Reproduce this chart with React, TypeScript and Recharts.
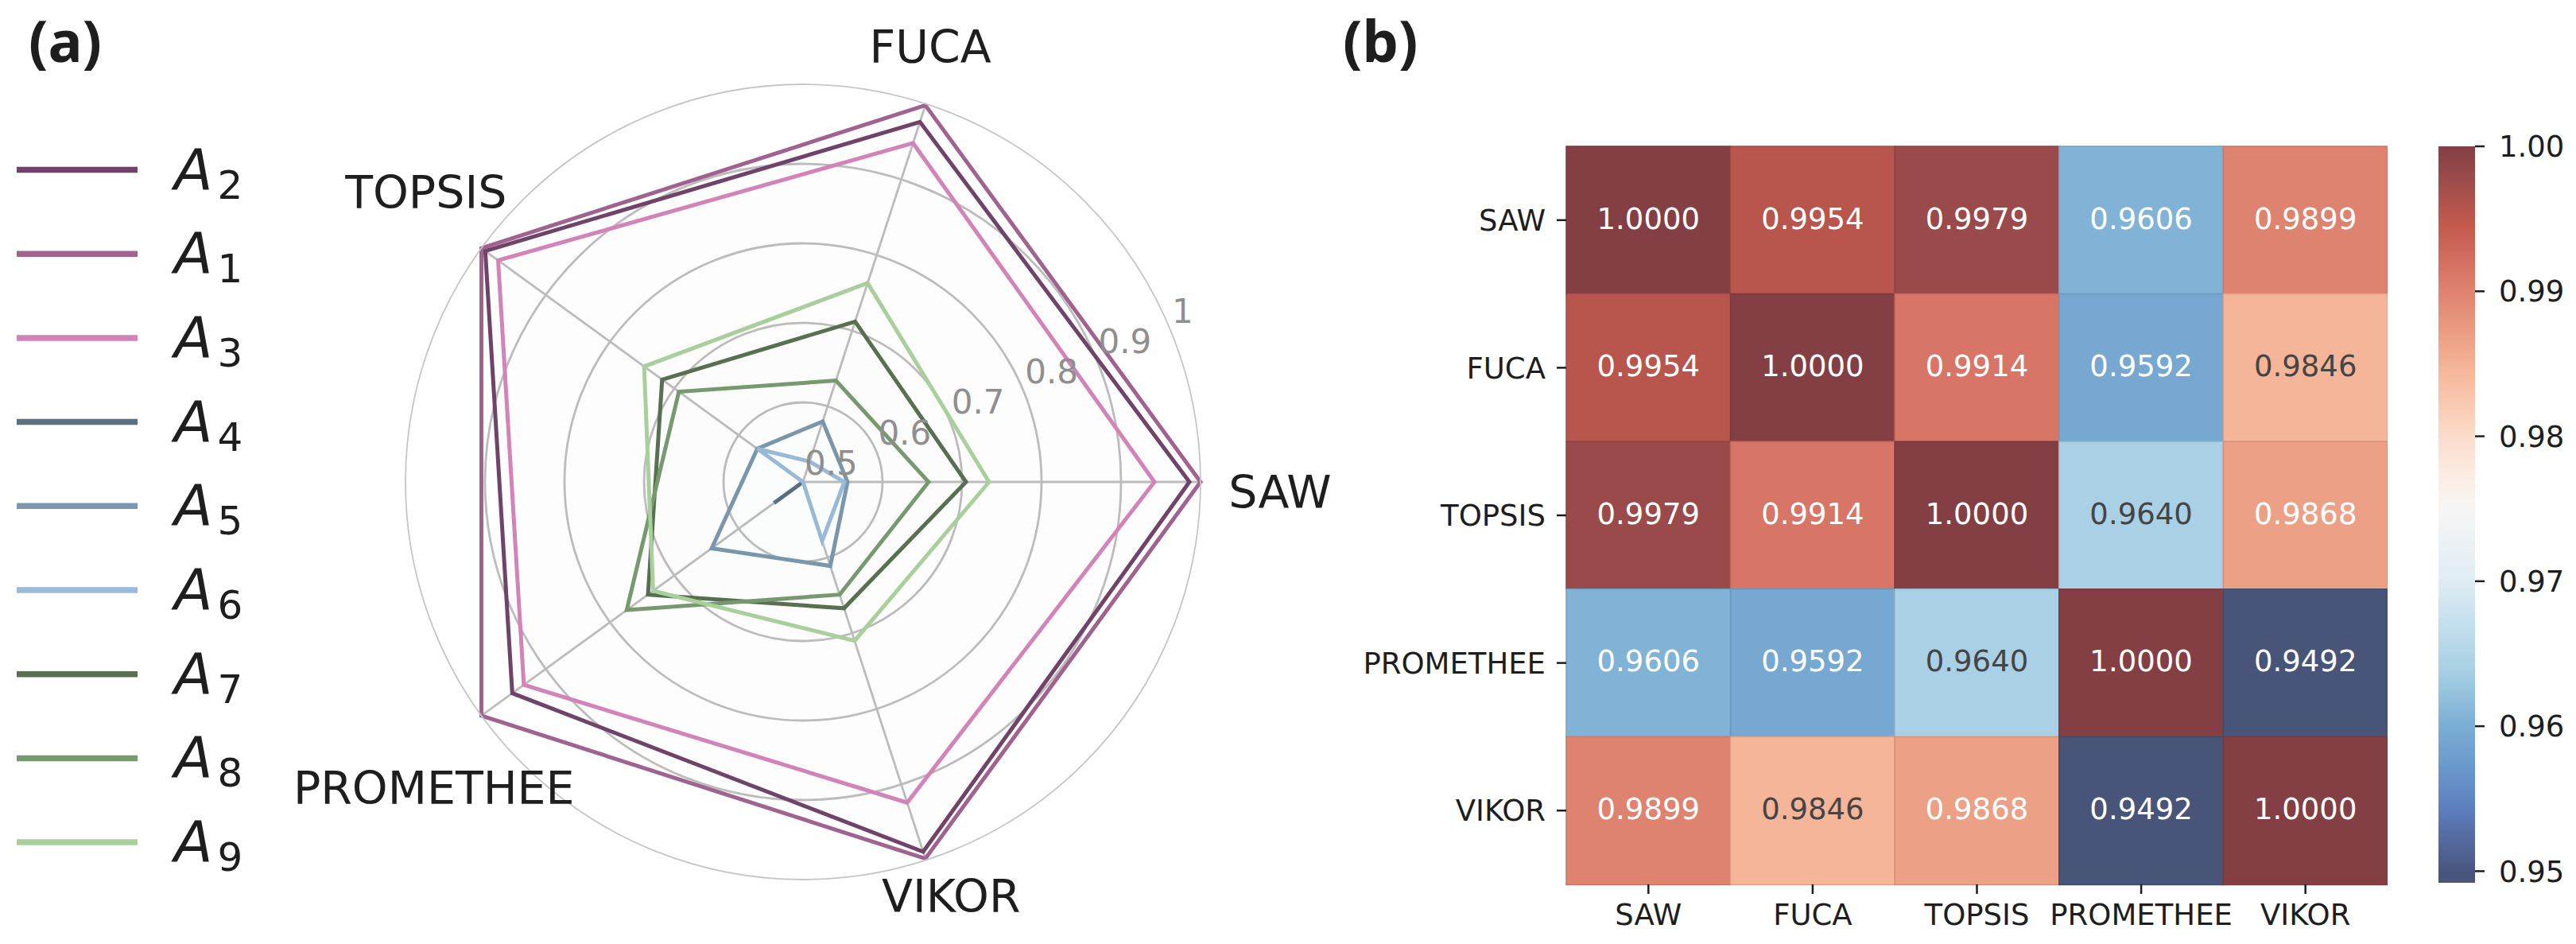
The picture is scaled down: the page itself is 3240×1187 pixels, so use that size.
import React from 'react';
import {
  RadarChart,
  Radar,
  PolarGrid,
  PolarAngleAxis,
  PolarRadiusAxis,
  Legend,
  BarChart,
  Bar,
  XAxis,
  YAxis,
  Cell,
  LabelList,
} from 'recharts';

// ---- data ----
const methods = ['SAW', 'FUCA', 'TOPSIS', 'PROMETHEE', 'VIKOR'];

// normalised scores of each alternative, same order as methods
const A1 = [1.0, 0.998, 1.0, 1.0, 0.998];
const A2 = [0.986, 0.976, 0.994, 0.952, 0.989];
const A3 = [0.942, 0.948, 0.974, 0.934, 0.924];
const A4 = [0.5, 0.5, 0.5, 0.545, 0.5];
const A5 = [0.556, 0.58, 0.571, 0.642, 0.611];
const A6 = [0.552, 0.527, 0.571, 0.5, 0.578];
const A7 = [0.705, 0.712, 0.719, 0.741, 0.667];
const A8 = [0.658, 0.634, 0.693, 0.774, 0.649];
const A9 = [0.734, 0.763, 0.747, 0.733, 0.71];

const radialTicks = [0.5, 0.6, 0.7, 0.8, 0.9, 1.0];

// correlation between the methods (rows of the matrix)
const corrSAW = [1.0, 0.9954, 0.9979, 0.9606, 0.9899];
const corrFUCA = [0.9954, 1.0, 0.9914, 0.9592, 0.9846];
const corrTOPSIS = [0.9979, 0.9914, 1.0, 0.964, 0.9868];
const corrPROMETHEE = [0.9606, 0.9592, 0.964, 1.0, 0.9492];
const corrVIKOR = [0.9899, 0.9846, 0.9868, 0.9492, 1.0];

const colorbarTicks = [0.95, 0.96, 0.97, 0.98, 0.99, 1.0];
const CB_MIN = 0.9492;
const CB_MAX = 1.0;

// ---- styling ----
const series = [
  { name: 'A2', values: A2, color: '#704468' },
  { name: 'A1', values: A1, color: '#a0628f' },
  { name: 'A3', values: A3, color: '#d283b7' },
  { name: 'A4', values: A4, color: '#5a7083' },
  { name: 'A5', values: A5, color: '#7c97ae' },
  { name: 'A6', values: A6, color: '#9abbd9' },
  { name: 'A7', values: A7, color: '#586f51' },
  { name: 'A8', values: A8, color: '#78986f' },
  { name: 'A9', values: A9, color: '#a8cf9c' },
];

// the radar runs clockwise from 3 o'clock, so walk the methods backwards
// (SAW, VIKOR, PROMETHEE, TOPSIS, FUCA) to get them counter-clockwise
const radarOrder = [0, 4, 3, 2, 1];
const radarData = radarOrder.map((i) => {
  const row: Record<string, any> = { method: methods[i] };
  series.forEach((s) => {
    row[s.name] = s.values[i];
  });
  return row;
});

const corrRows = [corrSAW, corrFUCA, corrTOPSIS, corrPROMETHEE, corrVIKOR];
const heatRows = methods.map((m, i) => {
  const row: Record<string, any> = { name: m, vals: corrRows[i] };
  corrRows[i].forEach((v, j) => {
    row[`w${j}`] = 1; // every cell is one unit wide
    row[`v${j}`] = v;
  });
  return row;
});

// diverging colormap sampled from the colour bar
const cmapStops: Array<[number, string]> = [
  [0.9492, '#495479'],
  [0.95, '#4a5580'],
  [0.9544, '#5e7fbf'],
  [0.9571, '#6a98cb'],
  [0.96, '#7aaed4'],
  [0.9638, '#a8cfe4'],
  [0.9672, '#c5e0ee'],
  [0.97, '#e0ecf4'],
  [0.975, '#f7f6f5'],
  [0.9773, '#fbece3'],
  [0.98, '#fbdccb'],
  [0.984, '#f7bb9f'],
  [0.9866, '#eda387'],
  [0.99, '#df8270'],
  [0.9944, '#c55a4f'],
  [0.9974, '#9f4d4b'],
  [1.0, '#843f45'],
];

const hexToRgb = (h: string) => [
  parseInt(h.slice(1, 3), 16),
  parseInt(h.slice(3, 5), 16),
  parseInt(h.slice(5, 7), 16),
];

const cmapRgb = (v: number) => {
  const x = Math.min(CB_MAX, Math.max(CB_MIN, v));
  for (let k = 0; k < cmapStops.length - 1; k++) {
    const [v0, c0] = cmapStops[k];
    const [v1, c1] = cmapStops[k + 1];
    if (x >= v0 && x <= v1) {
      const t = (x - v0) / (v1 - v0);
      const a = hexToRgb(c0);
      const b = hexToRgb(c1);
      return a.map((ch, n) => Math.round(ch + (b[n] - ch) * t));
    }
  }
  return hexToRgb(cmapStops[cmapStops.length - 1][1]);
};

const rgbStr = (c: number[]) => `rgb(${c[0]},${c[1]},${c[2]})`;
const cmap = (v: number) => rgbStr(cmapRgb(v));
const edgeColor = (v: number) => rgbStr(cmapRgb(v).map((ch) => Math.round(ch * 0.9)));

const luminance = (c: number[]) => {
  const lin = c.map((ch) => {
    const s = ch / 255;
    return s <= 0.03928 ? s / 12.92 : Math.pow((s + 0.055) / 1.055, 2.4);
  });
  return 0.2126 * lin[0] + 0.7152 * lin[1] + 0.0722 * lin[2];
};

// ---- radar geometry ----
const CX = 1010;
const CY = 606;
const R = 500;
const gridRadii = radialTicks
  .filter((t) => t > 0.5 && t < 1)
  .map((t) => ((t - 0.5) / 0.5) * R);

// fine nudges so the method names sit like the original
const labelNudge: Record<string, [number, number]> = {
  SAW: [20, 13],
  FUCA: [-19, 5],
  TOPSIS: [-5, -23],
  PROMETHEE: [5, 44],
  VIKOR: [7, -31],
};

const AngleTick = ({ x, y, payload }: any) => {
  const dx = x - CX;
  const dy = y - CY;
  const d = Math.hypot(dx, dy) || 1;
  const nudge = labelNudge[payload.value] || [0, 0];
  const tx = CX + (dx / d) * 580 + nudge[0];
  const ty = CY + (dy / d) * 580 + nudge[1];
  return (
    <text
      x={tx}
      y={ty}
      textAnchor="middle"
      dominantBaseline="central"
      fontSize={57}
      fill="#1e1e1e"
      fontFamily="DejaVu Sans"
    >
      {payload.value}
    </text>
  );
};

const fmtRadial = (v: number) => (Math.abs(v - 1) < 1e-9 ? '1' : v.toFixed(1));

const RadiusTick = ({ x, y, payload }: any) => (
  <text
    x={x + 2}
    y={y - 9}
    textAnchor="start"
    fontSize={42}
    fill="#8f8f8f"
    fontFamily="DejaVu Sans"
  >
    {fmtRadial(payload.value)}
  </text>
);

const LEGEND_TOP = 213.5;
const LEGEND_STEP = 105.7;

const renderLegend = (props: any) => {
  const payload = [...(props.payload || [])].sort(
    (a: any, b: any) =>
      series.findIndex((s) => s.name === a.value) - series.findIndex((s) => s.name === b.value)
  );
  return (
    <svg width={330} height={1120}>
      {payload.map((p: any, i: number) => {
        const y = LEGEND_TOP + i * LEGEND_STEP;
        return (
          <g key={p.value}>
            <line x1={21} x2={173} y1={y} y2={y} stroke={p.color} strokeWidth={7.5} />
            <text x={219} y={y + 24} fontSize={71} fill="#1e1e1e" fontFamily="DejaVu Sans">
              <tspan fontStyle="italic">A</tspan>
              <tspan fontSize={50} dx={6} dy={12}>
                {String(p.value).slice(1)}
              </tspan>
            </text>
          </g>
        );
      })}
    </svg>
  );
};

// ---- heatmap cell text ----
const CellLabel = (props: any) => {
  const { x, y, width, height, value } = props;
  const lum = luminance(cmapRgb(value));
  return (
    <text
      x={x + width / 2}
      y={y + height / 2 - 2}
      textAnchor="middle"
      dominantBaseline="central"
      fontSize={37}
      fill={lum > 0.5 ? '#454545' : '#ffffff'}
      fontFamily="DejaVu Sans"
    >
      {Number(value).toFixed(4)}
    </text>
  );
};

const axisText = { fontSize: 37, fill: '#1e1e1e', fontFamily: 'DejaVu Sans' };
const tickStroke = { stroke: '#1e1e1e', strokeWidth: 2.5 };

export default function App() {
  return (
    <div
      style={{
        position: 'absolute',
        left: 0,
        top: 0,
        width: 3240,
        height: 1187,
        background: '#ffffff',
        overflow: 'hidden',
        fontFamily: '"DejaVu Sans", sans-serif',
      }}
    >
      {/* panel letters */}
      <svg width={3240} height={130} style={{ position: 'absolute', left: 0, top: 0 }}>
        <text x={36} y={78} fontSize={72} fontWeight="bold" fill="#1e1e1e" fontFamily="Noto Sans">
          (a)
        </text>
        <text x={1689} y={78} fontSize={72} fontWeight="bold" fill="#1e1e1e" fontFamily="Noto Sans">
          (b)
        </text>
      </svg>

      {/* (a) radar */}
      <div style={{ position: 'absolute', left: 0, top: 0 }}>
        <RadarChart
          width={1900}
          height={1187}
          data={radarData}
          cx={CX}
          cy={CY}
          innerRadius={0}
          outerRadius={R}
          startAngle={0}
          endAngle={-360}
          margin={{ top: 0, right: 0, bottom: 0, left: 0 }}
        >
          <PolarGrid
            gridType="circle"
            polarRadius={gridRadii}
            stroke="#bebebe"
            strokeWidth={2.8}
            fill="none"
          />
          <PolarAngleAxis
            dataKey="method"
            axisLineType="circle"
            axisLine={{ stroke: '#c6c6c6', strokeWidth: 1.8, fill: 'none' }}
            tickLine={false}
            tick={<AngleTick />}
          />
          <PolarRadiusAxis
            angle={22.5}
            type="number"
            domain={[0.5, 1]}
            ticks={radialTicks as any}
            tickCount={6}
            axisLine={false}
            tickLine={false}
            tick={<RadiusTick />}
          />
          {series.map((s) => (
            <Radar
              key={s.name}
              name={s.name}
              dataKey={s.name}
              stroke={s.color}
              strokeWidth={5}
              fill={s.color}
              fillOpacity={0.003}
              dot={false}
              isAnimationActive={false}
            />
          ))}
          <Legend
            layout="vertical"
            align="center"
            verticalAlign="middle"
            wrapperStyle={{ left: 0, top: 0, width: 330 }}
            content={renderLegend}
          />
        </RadarChart>
      </div>

      {/* (b) correlation heatmap */}
      <div style={{ position: 'absolute', left: 1700, top: 0 }}>
        <BarChart
          layout="vertical"
          width={1303}
          height={1187}
          data={heatRows}
          margin={{ top: 184, right: 0, bottom: 0, left: 0 }}
          barCategoryGap={0}
        >
          <XAxis
            type="number"
            domain={[0, methods.length]}
            ticks={methods.map((_, j) => j + 0.5)}
            tickFormatter={(v: number) => methods[Math.floor(v)]}
            interval={0}
            height={75}
            axisLine={false}
            tickSize={12}
            tickMargin={13}
            tickLine={tickStroke}
            tick={axisText}
          />
          <YAxis
            type="category"
            dataKey="name"
            width={270}
            interval={0}
            axisLine={false}
            tickSize={12}
            tickMargin={14}
            tickLine={tickStroke}
            tick={axisText}
          />
          {methods.map((m, j) => (
            <Bar key={m} dataKey={`w${j}`} stackId="cells" isAnimationActive={false}>
              {heatRows.map((row, i) => (
                <Cell
                  key={`${i}-${j}`}
                  fill={cmap(row.vals[j])}
                  stroke={edgeColor(row.vals[j])}
                  strokeWidth={1.5}
                />
              ))}
              <LabelList dataKey={`v${j}`} content={CellLabel} />
            </Bar>
          ))}
        </BarChart>
      </div>

      {/* colour bar */}
      <div style={{ position: 'absolute', left: 3067, top: 0 }}>
        <BarChart
          width={173}
          height={1187}
          data={[{ name: 'cb', span: [CB_MIN, CB_MAX] }]}
          margin={{ top: 184, right: 0, bottom: 77, left: 0 }}
          barCategoryGap={0}
        >
          <defs>
            <linearGradient id="cbGrad" x1="0" y1="0" x2="0" y2="1">
              {cmapStops
                .slice()
                .reverse()
                .map(([v, c]) => (
                  <stop key={v} offset={(CB_MAX - v) / (CB_MAX - CB_MIN)} stopColor={c} />
                ))}
            </linearGradient>
          </defs>
          <XAxis dataKey="name" hide />
          <YAxis
            orientation="right"
            type="number"
            domain={[CB_MIN, CB_MAX]}
            ticks={colorbarTicks}
            tickFormatter={(v: number) => v.toFixed(2)}
            interval={0}
            width={127}
            axisLine={false}
            tickSize={12}
            tickMargin={18}
            tickLine={tickStroke}
            tick={axisText}
          />
          <Bar dataKey="span" fill="url(#cbGrad)" isAnimationActive={false} />
        </BarChart>
      </div>
    </div>
  );
}
